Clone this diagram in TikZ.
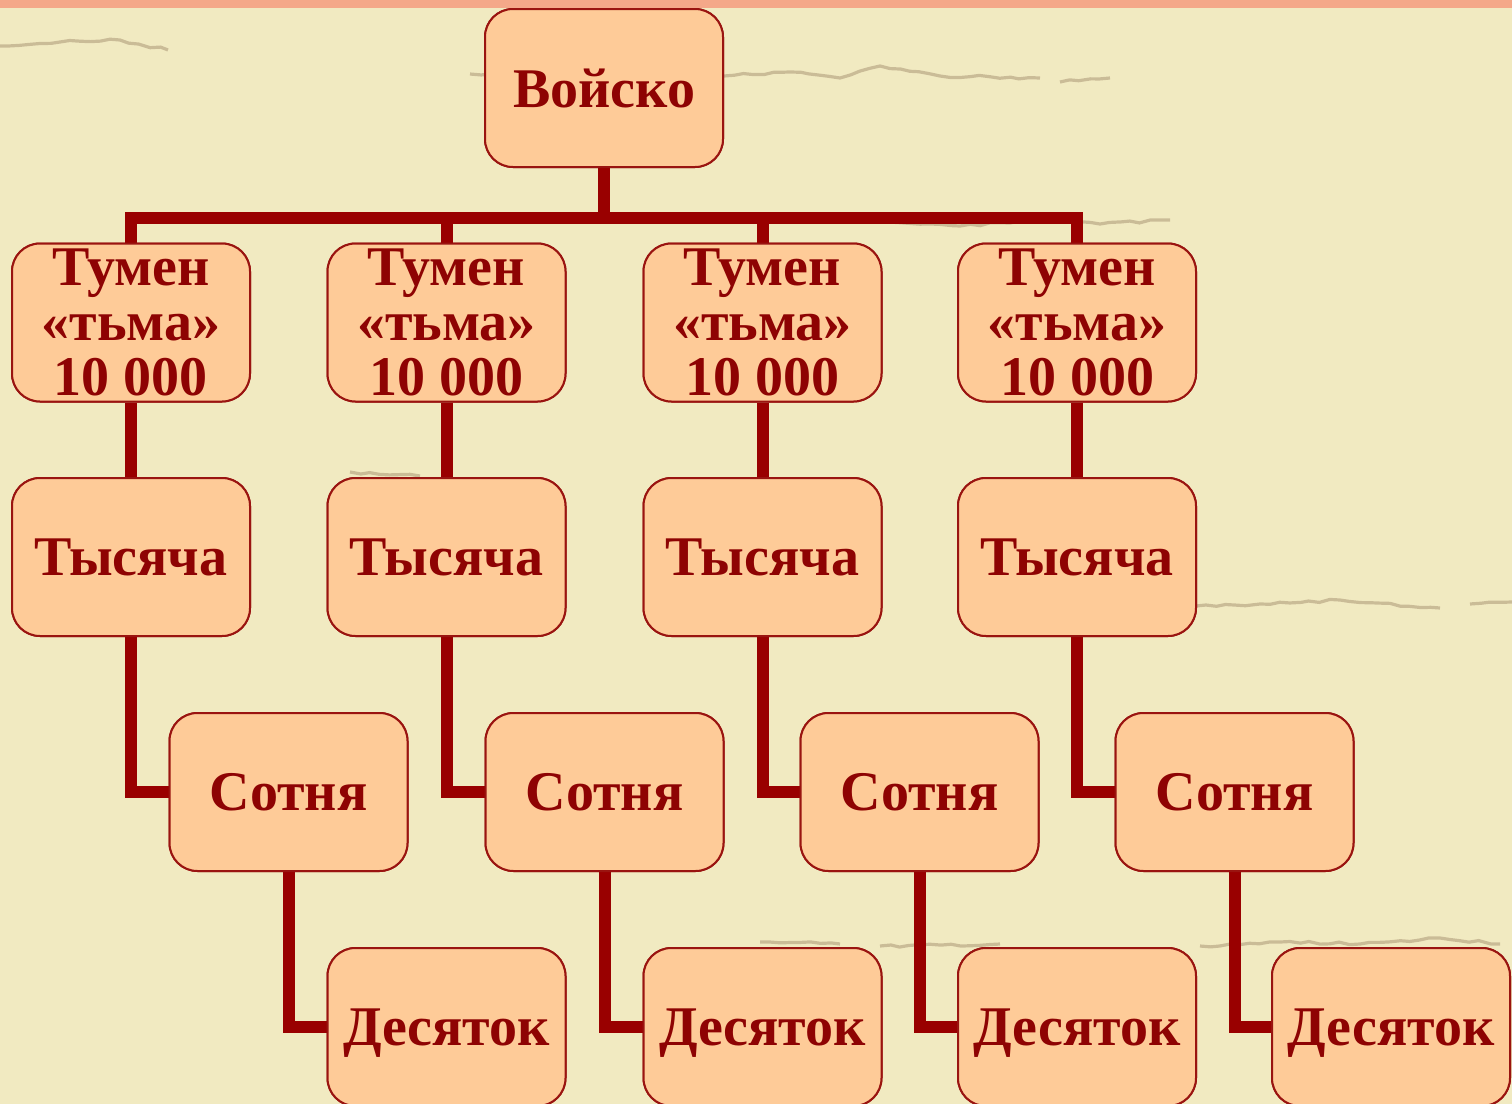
\documentclass[tikz,border=0pt]{standalone}
\usepackage{fontspec}
\setmainfont{Liberation Serif}
\usetikzlibrary{decorations.pathmorphing}
\definecolor{parch}{HTML}{F1EAC1}
\definecolor{band}{HTML}{F4A889}
\definecolor{boxfill}{HTML}{FECB98}
\definecolor{boxline}{HTML}{9A1410}
\definecolor{txt}{HTML}{8E0303}
\definecolor{connc}{HTML}{990000}
\definecolor{streakc}{HTML}{9C8566}
\newcommand{\lowtext}[1]{\raisebox{-3pt}[\height][\depth]{#1}}
\begin{document}
\begin{tikzpicture}[x=0.5pt,y=-0.5pt,
  box/.style={draw=boxline, line width=1pt, fill=boxfill, rounded corners=14pt,
    minimum width=119pt, minimum height=79pt, inner sep=0pt,
    font=\fontsize{28}{27.5}\selectfont\bfseries, text=txt, align=center},
  conn/.style={draw=connc, line width=6pt, line join=miter},
  streak/.style={draw=streakc, opacity=0.45, line width=1.6pt,
    decorate, decoration={random steps, segment length=5pt, amplitude=0.7pt}}]
\useasboundingbox (0,0) rectangle (1512,1104);
\clip (0,0) rectangle (1512,1104);
% background
\fill[parch] (0,0) rectangle (1512,1104);
\fill[band] (0,0) rectangle (1512,8);
\draw[streak] (0,46) -- (60,42) -- (120,40) -- (168,50);
\draw[streak] (470,74) -- (520,72) -- (600,70);
\draw[streak] (724,76) -- (790,72) -- (840,78) -- (880,66) -- (940,76) -- (1040,78);
\draw[streak] (1060,82) -- (1110,78);
\draw[streak] (880,222) -- (960,226) -- (1040,220) -- (1100,224) -- (1170,220);
\draw[streak] (350,472) -- (420,476);
\draw[streak] (1196,606) -- (1260,604) -- (1340,600) -- (1440,608);
\draw[streak] (1470,604) -- (1512,602);
\draw[streak] (760,942) -- (840,944);
\draw[streak] (880,946) -- (1000,944);
\draw[streak] (1200,946) -- (1280,942) -- (1360,944) -- (1440,938) -- (1500,944);
% nodes
\node[box] (v) at (604,88) {Войско};
\foreach \i/\x in {1/131,2/446.5,3/762.5,4/1077}{
  \node[box] (t\i) at (\x,322.5) {Тумен\\«тьма»\\10 000};
  \node[box] (k\i) at (\x,557) {Тысяча};
}
\foreach \i/\x in {1/288.5,2/604.5,3/919.5,4/1234.5}{
  \node[box] (s\i) at (\x,792) {Сотня};
}
\foreach \i/\x in {1/446.5,2/762.5,3/1077,4/1391}{
  \node[box] (d\i) at (\x,1027) {\lowtext{Десяток}};
}
% connectors
\foreach \i in {1,...,4}{
  \draw[conn] (v.south) -- ++(0,50) -| (t\i.north);
  \draw[conn] (t\i.south) -- (k\i.north);
  \draw[conn] (k\i.south) |- (s\i.west);
  \draw[conn] (s\i.south) |- (d\i.west);
}
% redraw boxes on top of connector ends
\node[box] at (v) {Войско};
\foreach \i in {1,...,4}{
  \node[box] at (t\i) {Тумен\\«тьма»\\10 000};
  \node[box] at (k\i) {Тысяча};
  \node[box] at (s\i) {Сотня};
  \node[box] at (d\i) {\lowtext{Десяток}};
}
\end{tikzpicture}
\end{document}
